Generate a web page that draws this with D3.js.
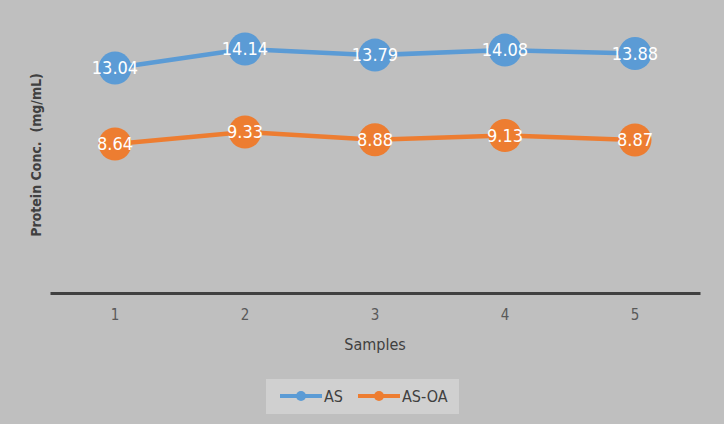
<!DOCTYPE html>
<html>
<head>
<meta charset="utf-8">
<script src="https://cdn.jsdelivr.net/npm/d3@7"></script>
<style>
  body { margin: 0; background: #bfbfbf; }
  svg { display: block; }
</style>
</head>
<body>
<svg id="root"></svg>
<script>
const samples = ["1", "2", "3", "4", "5"];
const asValues = [13.04, 14.14, 13.79, 14.08, 13.88];
const asOaValues = [8.64, 9.33, 8.88, 9.13, 8.87];
const seriesNames = ["AS", "AS-OA"];
const seriesColors = ["#5b9bd5", "#ed7d31"];

const width = 724, height = 424;
const margin = { top: 17, left: 50, right: 24, bottom: 131 };
const font = "'Liberation Sans Narrow', 'DejaVu Sans Condensed', sans-serif";

const svg = d3.select("#root").attr("width", width).attr("height", height);
svg.append("rect").attr("width", width).attr("height", height).attr("fill", "#bfbfbf");

const x = d3.scaleBand().domain(samples).range([margin.left, width - margin.right]);
const y = d3.scaleLinear().domain([0, 16]).range([height - margin.bottom, margin.top]);

// x axis
const xAxis = svg.append("g")
  .attr("transform", `translate(0,${y(0)})`)
  .call(d3.axisBottom(x).tickSize(0).tickPadding(16));
xAxis.select(".domain").attr("stroke", "#404040").attr("stroke-width", 3);
xAxis.selectAll("text")
  .attr("font-family", font).attr("font-size", 15).attr("fill", "#595959");

svg.append("text")
  .attr("x", x("3") + x.bandwidth() / 2).attr("y", 350)
  .attr("text-anchor", "middle")
  .attr("font-family", font).attr("font-size", 16).attr("fill", "#404040")
  .text("Samples");

svg.append("text")
  .attr("transform", `translate(41,${155}) rotate(-90)`)
  .attr("text-anchor", "middle")
  .attr("font-family", font).attr("font-size", 14).attr("font-weight", "bold")
  .attr("fill", "#404040")
  .attr("xml:space", "preserve")
  .text("Protein Conc.  (mg/mL)");

const series = [asValues, asOaValues].map((vals, i) => ({
  name: seriesNames[i],
  color: seriesColors[i],
  points: vals.map((v, j) => ({ s: samples[j], v }))
}));

const cx = (d) => x(d.s) + x.bandwidth() / 2;
const line = d3.line().x(cx).y((d) => y(d.v));

series.forEach((s) => {
  const g = svg.append("g");
  g.append("path").datum(s.points)
    .attr("d", line).attr("fill", "none")
    .attr("stroke", s.color).attr("stroke-width", 4.5);
  g.selectAll("circle").data(s.points).enter().append("circle")
    .attr("cx", cx).attr("cy", (d) => y(d.v)).attr("r", 16.5)
    .attr("fill", s.color);
  g.selectAll("text").data(s.points).enter().append("text")
    .attr("x", cx).attr("y", (d) => y(d.v)).attr("dy", "0.35em")
    .attr("text-anchor", "middle")
    .attr("font-family", font).attr("font-size", 18).attr("fill", "#ffffff")
    .text((d) => d.v.toFixed(2));
});

// legend
const legend = svg.append("g");
legend.append("rect")
  .attr("x", 266).attr("y", 379).attr("width", 193).attr("height", 35)
  .attr("fill", "#d0d0d0");
const legendX = [280, 358];
series.forEach((s, i) => {
  const lx = legendX[i];
  legend.append("line")
    .attr("x1", lx).attr("x2", lx + 42).attr("y1", 396).attr("y2", 396)
    .attr("stroke", s.color).attr("stroke-width", 4);
  legend.append("circle")
    .attr("cx", lx + 21).attr("cy", 396).attr("r", 5).attr("fill", s.color);
  legend.append("text")
    .attr("x", lx + 44).attr("y", 396).attr("dy", "0.35em")
    .attr("font-family", font).attr("font-size", 16).attr("fill", "#404040")
    .text(s.name);
});
</script>
</body>
</html>
